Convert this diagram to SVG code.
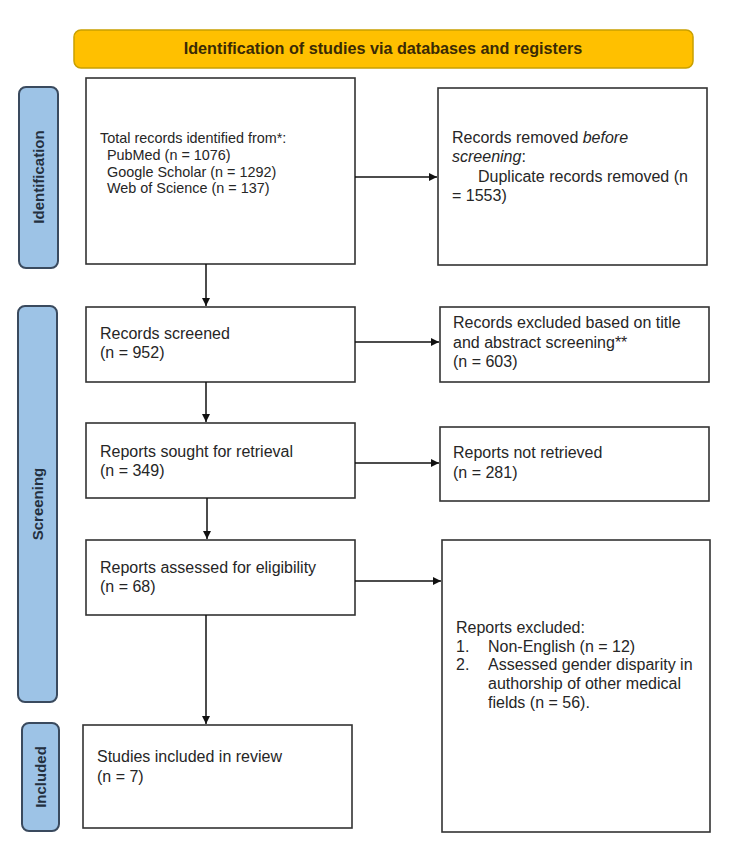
<svg xmlns="http://www.w3.org/2000/svg" width="750" height="868" viewBox="0 0 750 868">
<style>
text{font-family:"Liberation Sans",Arial,sans-serif;fill:#262626}
.box{fill:#fff;stroke:#333;stroke-width:1.6}
.side{fill:#9DC3E6;stroke:#3A4A5E;stroke-width:2}
.sidet{font-size:15px;font-weight:bold;fill:#24303f}
.t16{font-size:16px}
.t14{font-size:14.4px}
.con line{stroke:#111;stroke-width:1.5}
</style>
<defs>
<marker id="ah" viewBox="0 0 10 10" refX="10" refY="5" markerWidth="8" markerHeight="8" markerUnits="userSpaceOnUse" orient="auto">
<path d="M0,0 L10,5 L0,10 z" fill="#111"/>
</marker>
</defs>
<rect width="750" height="868" fill="#fff"/>

<g id="banner">
<rect x="74" y="30" width="619" height="38" rx="7" fill="#FFC000" stroke="#C9A000" stroke-width="1.5"/>
<text x="383" y="54" text-anchor="middle" style="font-size:16.2px;font-weight:bold;fill:#3a2a05">Identification of studies via databases and registers</text>
</g>

<g id="label-identification">
<rect class="side" x="19" y="87" width="39" height="181" rx="7"/>
<text class="sidet" transform="translate(43.5,177) rotate(-90)" text-anchor="middle">Identification</text>
</g>
<g id="label-screening">
<rect class="side" x="18" y="306" width="39" height="396" rx="7"/>
<text class="sidet" transform="translate(43,504) rotate(-90)" text-anchor="middle">Screening</text>
</g>
<g id="label-included">
<rect class="side" x="22" y="723" width="37" height="108" rx="7"/>
<text class="sidet" transform="translate(46,777) rotate(-90)" text-anchor="middle">Included</text>
</g>

<g id="records-identified">
<rect class="box" x="86" y="78" width="269" height="186"/>
<text class="t14" x="100" y="143">Total records identified from*:</text>
<text class="t14" x="107" y="160">PubMed (n = 1076)</text>
<text class="t14" x="107" y="177">Google Scholar (n = 1292)</text>
<text class="t14" x="107" y="193">Web of Science (n = 137)</text>
</g>

<g id="records-removed">
<rect class="box" x="438" y="88" width="269" height="177"/>
<text class="t16" x="452" y="143">Records removed <tspan font-style="italic">before</tspan></text>
<text class="t16" x="452" y="162"><tspan font-style="italic">screening</tspan>:</text>
<text class="t16" x="478" y="182">Duplicate records removed (n</text>
<text class="t16" x="452" y="201">= 1553)</text>
</g>

<g id="records-screened">
<rect class="box" x="86" y="307" width="269" height="75"/>
<text class="t16" x="100" y="339">Records screened</text>
<text class="t16" x="100" y="358">(n = 952)</text>
</g>

<g id="records-excluded">
<rect class="box" x="440" y="307" width="269" height="75"/>
<text class="t16" x="453" y="328">Records excluded based on title</text>
<text class="t16" x="453" y="348">and abstract screening**</text>
<text class="t16" x="453" y="367">(n = 603)</text>
</g>

<g id="reports-sought">
<rect class="box" x="86" y="423" width="269" height="75"/>
<text class="t16" x="100" y="457">Reports sought for retrieval</text>
<text class="t16" x="100" y="476">(n = 349)</text>
</g>

<g id="reports-not-retrieved">
<rect class="box" x="440" y="427" width="269" height="74"/>
<text class="t16" x="453" y="458">Reports not retrieved</text>
<text class="t16" x="453" y="478">(n = 281)</text>
</g>

<g id="reports-assessed">
<rect class="box" x="86" y="540" width="269" height="75"/>
<text class="t16" x="100" y="573">Reports assessed for eligibility</text>
<text class="t16" x="100" y="592">(n = 68)</text>
</g>

<g id="reports-excluded">
<rect class="box" x="442" y="540" width="268" height="292"/>
<text class="t16" x="456" y="633">Reports excluded:</text>
<text class="t16" x="456" y="652">1.</text>
<text class="t16" x="488" y="652">Non-English (n = 12)</text>
<text class="t16" x="456" y="670">2.</text>
<text class="t16" x="488" y="670">Assessed gender disparity in</text>
<text class="t16" x="488" y="689">authorship of other medical</text>
<text class="t16" x="488" y="708">fields (n = 56).</text>
</g>

<g id="studies-included">
<rect class="box" x="83" y="725" width="269" height="103"/>
<text class="t16" x="97" y="762">Studies included in review</text>
<text class="t16" x="97" y="782">(n = 7)</text>
</g>

<g class="con" id="connectors">
<line x1="355" y1="177" x2="437" y2="177" marker-end="url(#ah)"/>
<line x1="206" y1="264" x2="206" y2="306" marker-end="url(#ah)"/>
<line x1="355" y1="342" x2="439" y2="342" marker-end="url(#ah)"/>
<line x1="206" y1="382" x2="206" y2="422" marker-end="url(#ah)"/>
<line x1="355" y1="463" x2="439" y2="463" marker-end="url(#ah)"/>
<line x1="207" y1="498" x2="207" y2="539" marker-end="url(#ah)"/>
<line x1="355" y1="581" x2="441" y2="581" marker-end="url(#ah)"/>
<line x1="206" y1="615" x2="206" y2="724" marker-end="url(#ah)"/>
</g>
</svg>
